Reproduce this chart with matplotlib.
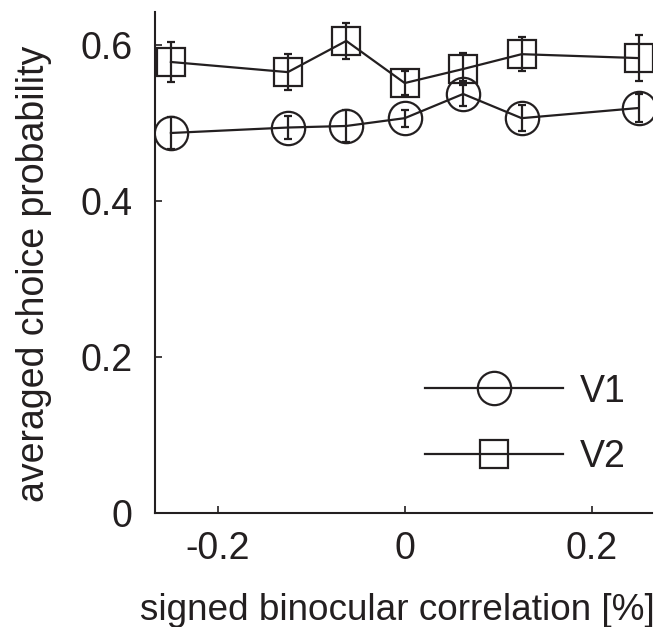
import matplotlib
matplotlib.use("Agg")
import matplotlib.pyplot as plt

x_vals = [-0.25, -0.125, -0.0625, 0.0, 0.0625, 0.125, 0.25]
v1_mean = [0.487, 0.494, 0.496, 0.506, 0.537, 0.506, 0.519]
v1_err = [0.020, 0.015, 0.020, 0.011, 0.016, 0.017, 0.018]
v2_mean = [0.578, 0.565, 0.605, 0.551, 0.569, 0.588, 0.583]
v2_err = [0.026, 0.023, 0.023, 0.015, 0.020, 0.022, 0.030]
xticks = [-0.2, 0, 0.2]
xtick_labels = ["-0.2", "0", "0.2"]
yticks = [0, 0.2, 0.4, 0.6]
ytick_labels = ["0", "0.2", "0.4", "0.6"]

plt.rcParams['font.family'] = ['Liberation Sans', 'DejaVu Sans']
ink = '#231f20'
fs = 27

fig = plt.figure(figsize=(6.61, 6.27), dpi=100)
ax = fig.add_axes([0.2345, 0.1818, 0.752, 0.799])

lw = 1.6
ax.errorbar(x_vals, v1_mean, yerr=v1_err, color=ink, lw=lw, marker='o',
            ms=24, mfc='none', mec=ink, mew=lw, capsize=3, elinewidth=lw,
            capthick=lw, label='V1')
ax.errorbar(x_vals, v2_mean, yerr=v2_err, color=ink, lw=lw, marker='s',
            ms=20, mfc='none', mec=ink, mew=lw, capsize=3, elinewidth=lw,
            capthick=lw, label='V2')

ax.set_xlim(-0.267, 0.2645)
ax.set_ylim(0, 0.642)
ax.set_xticks(xticks)
ax.set_xticklabels(xtick_labels)
ax.set_yticks(yticks)
ax.set_yticklabels(ytick_labels)
ax.tick_params(direction='in', length=5, width=1.2, labelsize=fs, colors=ink)
ax.tick_params(axis='y', pad=16)
ax.tick_params(axis='x', pad=13)
for s in ['top', 'right']:
    ax.spines[s].set_visible(False)
for s in ['left', 'bottom']:
    ax.spines[s].set_linewidth(1.5)
    ax.spines[s].set_color(ink)

ax.set_xlabel('signed binocular correlation [%]', fontsize=26.6, color=ink)
ax.set_ylabel('averaged choice probability', fontsize=fs, color=ink)
ax.xaxis.set_label_coords(0.487, -0.16)
ax.yaxis.set_label_coords(-0.207, 0.478)

handles, labels = ax.get_legend_handles_labels()
handles = [h[0] for h in handles]
leg = ax.legend(handles, labels, loc='center left', bbox_to_anchor=(0.543, 0.177),
                frameon=False, fontsize=fs, handlelength=3.68, labelspacing=0.79,
                handletextpad=0.45, borderpad=0, borderaxespad=0)
for t in leg.get_texts():
    t.set_color(ink)

fig.savefig('out.png', dpi=100)
